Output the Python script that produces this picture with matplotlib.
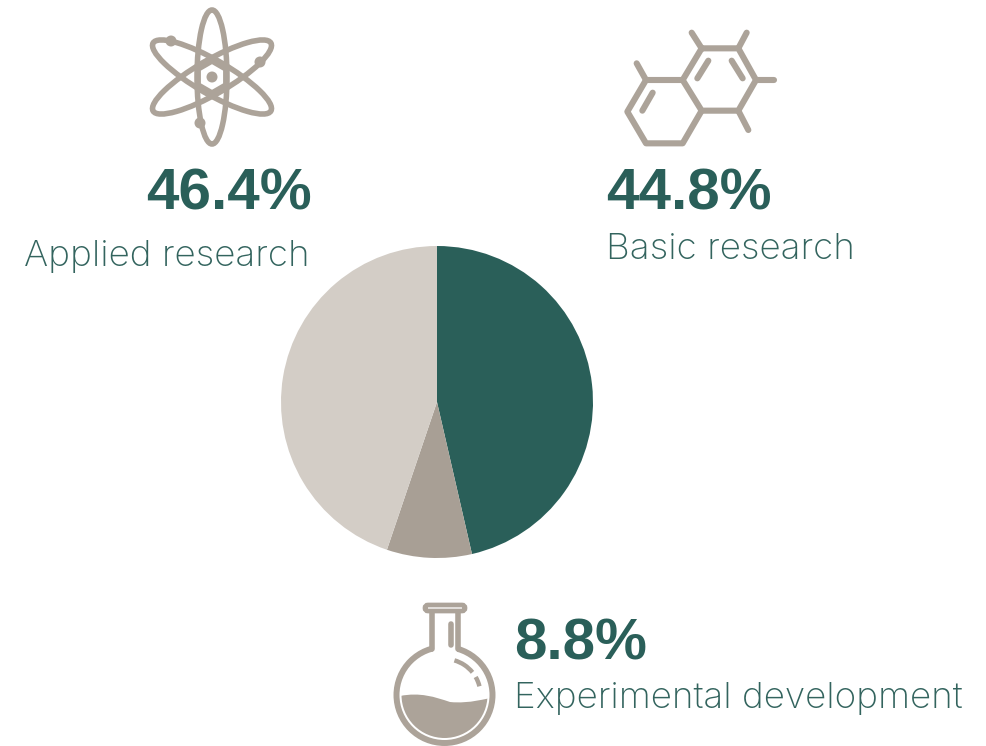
# -*- coding: utf-8 -*-
import numpy as np
import matplotlib
matplotlib.use('Agg')
import matplotlib.pyplot as plt
from matplotlib.patches import Ellipse, Circle, Polygon, PathPatch, FancyBboxPatch, Arc
from matplotlib.path import Path

# data
categories = ['Applied research', 'Experimental development', 'Basic research']
shares = [46.4, 8.8, 44.8]
slice_colors = ['#2A5F59', '#A89F95', '#D3CDC6']

# label texts, the big number sits on top of the name
share_labels = ['46.4%', '8.8%', '44.8%']

W, H = 987, 746
DARK = '#2A5F59'
TEXT = '#33645E'
ICON = '#ACA399'
LW = 4.0

fig = plt.figure(figsize=(W / 100, H / 100), dpi=100)

# pie, centre (437,402) radius 156 px
R = 156
ax = fig.add_axes([(437 - R) / W, 1 - (402 + R) / H, 2 * R / W, 2 * R / H])
ax.pie(shares, colors=slice_colors, startangle=90, counterclock=False, radius=1)
ax.set_xlim(-1, 1)
ax.set_ylim(-1, 1)

# overlay in pixel coords for icons and text
ov = fig.add_axes([0, 0, 1, 1])
ov.set_xlim(0, W)
ov.set_ylim(H, 0)
ov.axis('off')
ov.patch.set_alpha(0)


def stroke(pts, lw=LW):
    xs, ys = zip(*pts)
    ov.plot(xs, ys, color=ICON, lw=lw, solid_capstyle='round', solid_joinstyle='round')


def zoom_pts(pts, x0, y0):
    return [(x0 + x / 3, y0 + y / 3) for x, y in pts]


# atom icon
cx, cy = 212, 77
ov.add_patch(Ellipse((cx, cy), 134, 30, angle=90, fill=False, ec=ICON, lw=LW))
for ang in (30, -30):
    ov.add_patch(Ellipse((cx, cy), 136, 34, angle=ang, fill=False, ec=ICON, lw=LW))
hex_t = np.radians(np.arange(90, 451, 60))
stroke(list(zip(cx + 16 * np.cos(hex_t), cy + 16 * np.sin(hex_t))))
ov.add_patch(Circle((cx, cy), 5.5, fc=ICON, ec='none'))
for p in [(171, 41), (260, 62), (200, 123)]:
    ov.add_patch(Circle(p, 5.5, fc=ICON, ec='none'))

# molecule icon
mol_x, mol_y = 610, 20
mol_lines = [
    [(275, 85), (385, 85), (438, 180), (385, 272), (275, 272), (218, 180), (275, 85)],
    [(218, 180), (108, 180), (52, 275), (108, 370), (218, 370), (275, 272)],
    [(275, 85), (245, 38)], [(385, 85), (410, 38)], [(438, 180), (492, 180)],
    [(385, 272), (415, 330)], [(108, 180), (80, 130)],
    [(262, 175), (295, 122)], [(365, 122), (398, 175)], [(97, 272), (128, 218)],
]
for line in mol_lines:
    stroke(zoom_pts(line, mol_x, mol_y), lw=4.4)

# flask icon
fx, fy, fr = 444.5, 695, 48
ov.add_patch(Circle((fx, fy), fr, fill=False, ec=ICON, lw=LW + 0.3))
# neck, white block hides the top of the circle
ov.add_patch(Polygon([(433, 640), (457, 640), (457, 652), (433, 652)], fc='white', ec='none', zorder=2))
stroke([(432, 611), (432, 649)], lw=LW)
stroke([(458, 611), (458, 649)], lw=LW)
ov.add_patch(FancyBboxPatch((425, 605), 40, 6, boxstyle='round,pad=0,rounding_size=3',
                            fc='white', ec=ICON, lw=LW - 0.6, zorder=3))
stroke([(451, 624), (451, 645)], lw=4.0)
ov.add_patch(Arc((fx, fy), 72, 72, theta1=-74, theta2=-39, ec=ICON, lw=3.2))
ov.add_patch(Arc((fx, fy), 72, 72, theta1=-30, theta2=-14, ec=ICON, lw=3.2))
# liquid with wavy top, clipped to the inner circle
verts = [(400, 696), (420, 692), (435, 697), (450, 702), (470, 704), (487, 698), (492, 698),
         (492, 746), (400, 746), (400, 696)]
codes = [Path.MOVETO, Path.CURVE4, Path.CURVE4, Path.CURVE4, Path.CURVE4, Path.CURVE4,
         Path.LINETO, Path.LINETO, Path.LINETO, Path.CLOSEPOLY]
liquid = PathPatch(Path(verts, codes), fc=ICON, ec='none')
ov.add_patch(liquid)
liquid.set_clip_path(Circle((fx, fy), 43, transform=ov.transData))

# text
big = dict(family='Liberation Sans', fontweight='bold', fontsize=42, color=DARK, va='baseline')
small = dict(family='Inter', fontweight='light', fontsize=26.5, color=TEXT, va='baseline')

ov.text(146, 210, share_labels[0], ha='left', **big)
ov.text(24, 266, categories[0], ha='left', **small)
ov.text(606, 209, share_labels[2], ha='left', **big)
ov.text(606, 259, categories[2], ha='left', **small)
ov.text(514, 660, share_labels[1], ha='left', **big)
ov.text(514, 708, categories[1], ha='left', **small)

fig.savefig('out.png', dpi=100, facecolor='white')
